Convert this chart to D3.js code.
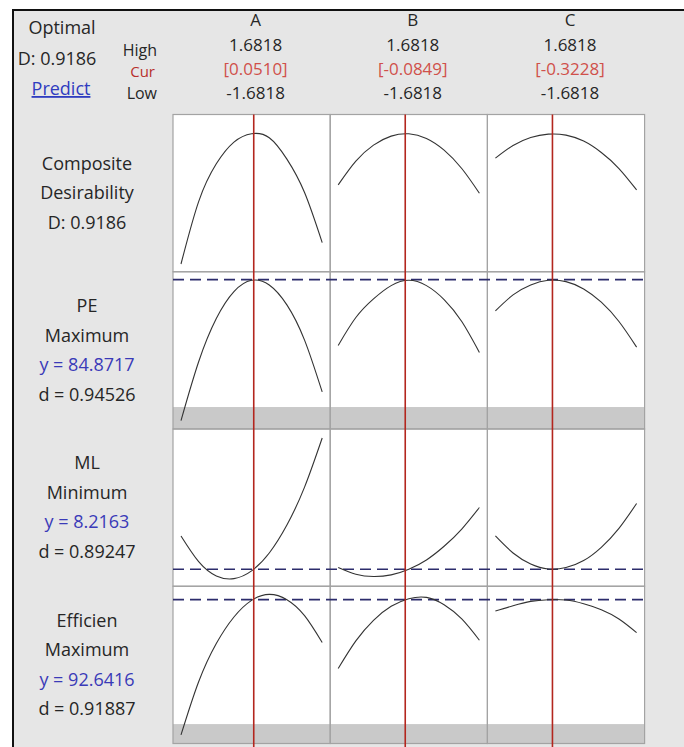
<!DOCTYPE html>
<html>
<head>
<meta charset="utf-8">
<script src="https://cdn.jsdelivr.net/npm/d3@7"></script>
<style>
  body { margin: 0; background: #fff; }
  text { font-family: "Open Sans", "Noto Sans", sans-serif; fill: #262626; }
</style>
</head>
<body>
<div id="chart"></div>
<script>
// factor settings (coded units)
var factors = ["A", "B", "C"];
var highVals = ["1.6818", "1.6818", "1.6818"];
var lowVals = ["-1.6818", "-1.6818", "-1.6818"];
var curVals = [0.0510, -0.0849, -0.3228];
var curLabels = ["[0.0510]", "[-0.0849]", "[-0.3228]"];

// responses
var responses = ["PE", "ML", "Efficien"];
var goals = ["Maximum", "Minimum", "Maximum"];
var predicted = [84.8717, 8.2163, 92.6416];
var predLabels = ["84.8717", "8.2163", "92.6416"];
var desirLabels = ["0.94526", "0.89247", "0.91887"];
var lowerBounds = [58.0, null, 62.8];
var compositeD = "0.9186";

// x points where the traces were read
var xPts = [-1.6818, -1.2614, -0.8409, -0.4205, 0, 0.4205, 0.8409, 1.2614, 1.6818];

// composite desirability traces (A, B, C)
var compA = [0, 0.4405, 0.7067, 0.8598, 0.9187, 0.8905, 0.7397, 0.5041, 0.1508];
var compB = [0.5583, 0.7256, 0.8386, 0.9022, 0.9187, 0.8857, 0.8033, 0.6737, 0.4994];
var compC = [0.7468, 0.8363, 0.8928, 0.9164, 0.9093, 0.8669, 0.7868, 0.6737, 0.5230];

// PE traces
var peA = [55.15, 67.56, 76.67, 82.35, 84.73, 83.75, 79.55, 72.12, 61.18];
var peB = [70.99, 76.88, 80.81, 83.61, 84.73, 83.61, 80.67, 76.04, 69.52];
var peC = [78.28, 81.65, 83.75, 84.73, 84.45, 82.91, 80.11, 76.04, 70.64];

// ML traces
var mlA = [10.80, 8.81, 7.70, 7.49, 8.09, 9.48, 11.65, 14.59, 18.40];
var mlB = [8.35, 7.83, 7.65, 7.78, 8.22, 8.94, 10.00, 11.34, 13.01];
var mlC = [10.80, 9.48, 8.63, 8.24, 8.35, 8.89, 9.92, 11.39, 13.32];

// Efficien traces
var effA = [60.19, 72.94, 82.11, 88.48, 92.47, 93.90, 92.63, 88.80, 82.35];
var effB = [76.13, 82.75, 87.69, 91.04, 92.87, 93.19, 91.43, 88.01, 82.91];
var effC = [89.92, 91.19, 92.23, 92.63, 92.55, 91.67, 90.24, 88.01, 84.74];

// y ranges of each row
var rowDomains = [[0, 1], [55, 84.9], [7.5, 18.5], [60, 94]];

var traces = [
    [compA, compB, compC],
    [peA, peB, peC],
    [mlA, mlB, mlC],
    [effA, effB, effC]
];

// svg dimensions
var svgWidth = 684;
var svgHeight = 747;

// grid layout
var gridX = 173, gridY = 114.5;
var cellW = 157.2, cellH = 157.25;
var padX = 8, padY = 7.75;

var svg = d3.select("#chart").append("svg")
    .attr("width", svgWidth)
    .attr("height", svgHeight);

// gray panel with black frame on top and left
svg.append("rect")
    .attr("x", 13).attr("y", 10)
    .attr("width", svgWidth - 13).attr("height", svgHeight - 10)
    .attr("fill", "#e6e6e6");
svg.append("path")
    .attr("d", `M13,${svgHeight} V10 H${svgWidth}`)
    .attr("fill", "none")
    .attr("stroke", "#111")
    .attr("stroke-width", 2);

// x scale per column
function xScale(col) {
    var x0 = gridX + col * cellW;
    return d3.scaleLinear()
        .domain([-1.6818, 1.6818])
        .range([x0 + padX, x0 + cellW - padX]);
}

// y scale per row
function yScale(row) {
    var y0 = gridY + row * cellH;
    return d3.scaleLinear()
        .domain(rowDomains[row])
        .range([y0 + cellH - padY, y0 + padY]);
}

var gridW = cellW * factors.length;
var gridH = cellH * traces.length;

// white cells
svg.append("rect")
    .attr("x", gridX).attr("y", gridY)
    .attr("width", gridW).attr("height", gridH)
    .attr("fill", "#fff");

// gray bands below the lower bound
lowerBounds.forEach(function(lb, i) {
    if (lb === null) return;
    var row = i + 1;
    var y = yScale(row);
    var yBottom = gridY + (row + 1) * cellH;
    svg.append("rect")
        .attr("x", gridX).attr("y", y(lb))
        .attr("width", gridW).attr("height", yBottom - y(lb))
        .attr("fill", "#c9c9c9");
});

// cell borders
var borders = svg.append("g")
    .attr("stroke", "#a3a3a3")
    .attr("stroke-width", 1.2)
    .attr("fill", "none");
for (var r = 0; r < traces.length; r++) {
    for (var c = 0; c < factors.length; c++) {
        borders.append("rect")
            .attr("x", gridX + c * cellW).attr("y", gridY + r * cellH)
            .attr("width", cellW).attr("height", cellH);
    }
}

// dashed lines at predicted responses
predicted.forEach(function(v, i) {
    var y = yScale(i + 1);
    svg.append("line")
        .attr("x1", gridX).attr("x2", gridX + gridW)
        .attr("y1", y(v)).attr("y2", y(v))
        .attr("stroke", "#2c2c6c")
        .attr("stroke-width", 1.6)
        .attr("stroke-dasharray", "11,6");
});

// traces
traces.forEach(function(rowTraces, r) {
    var y = yScale(r);
    rowTraces.forEach(function(vals, c) {
        var x = xScale(c);
        var line = d3.line()
            .x(function(d, i) { return x(xPts[i]); })
            .y(function(d) { return y(d); })
            .curve(d3.curveNatural);
        svg.append("path")
            .datum(vals)
            .attr("d", line)
            .attr("fill", "none")
            .attr("stroke", "#333")
            .attr("stroke-width", 1.1);
    });
});

// red lines at current settings
curVals.forEach(function(v, c) {
    var x = xScale(c);
    svg.append("line")
        .attr("x1", x(v)).attr("x2", x(v))
        .attr("y1", gridY).attr("y2", svgHeight)
        .attr("stroke", "#b3261e")
        .attr("stroke-width", 1.6);
});

// column headers
factors.forEach(function(f, c) {
    var cx = gridX + c * cellW + cellW / 2 + 4;
    var g = svg.append("g").attr("text-anchor", "middle").attr("font-size", "17px");
    g.append("text").attr("x", cx).attr("y", 26).text(f);
    g.append("text").attr("x", cx).attr("y", 51).text(highVals[c]);
    g.append("text").attr("x", cx).attr("y", 75).style("fill", "#d0504a").text(curLabels[c]);
    g.append("text").attr("x", cx).attr("y", 99).text(lowVals[c]);
});

// top-left block
var tl = svg.append("g").attr("text-anchor", "middle").attr("font-size", "18px");
tl.append("text").attr("x", 62).attr("y", 34).text("Optimal");
tl.append("text").attr("x", 57).attr("y", 65).text("D: " + compositeD);
tl.append("text").attr("x", 61).attr("y", 95)
    .style("fill", "#2f3cc0")
    .attr("text-decoration", "underline")
    .text("Predict");

var hl = svg.append("g").attr("text-anchor", "end");
hl.append("text").attr("x", 157).attr("y", 56).attr("font-size", "16px").text("High");
hl.append("text").attr("x", 155).attr("y", 77).attr("font-size", "15px").style("fill", "#b8302c").text("Cur");
hl.append("text").attr("x", 157).attr("y", 99).attr("font-size", "16px").text("Low");

// row labels
var labelX = 87;
var lineGap = 29.5;
function rowLabel(r, lines, colors) {
    var cy = gridY + r * cellH + cellH / 2;
    var n = lines.length;
    lines.forEach(function(t, i) {
        svg.append("text")
            .attr("x", labelX)
            .attr("y", cy + (i - (n - 1) / 2) * lineGap + 6)
            .attr("text-anchor", "middle")
            .attr("font-size", "18px")
            .style("fill", colors[i])
            .text(t);
    });
}

rowLabel(0, ["Composite", "Desirability", "D: " + compositeD], ["#262626", "#262626", "#262626"]);
responses.forEach(function(name, i) {
    rowLabel(i + 1,
        [name, goals[i], "y = " + predLabels[i], "d = " + desirLabels[i]],
        ["#262626", "#262626", "#3a3ab8", "#262626"]);
});
</script>
</body>
</html>
